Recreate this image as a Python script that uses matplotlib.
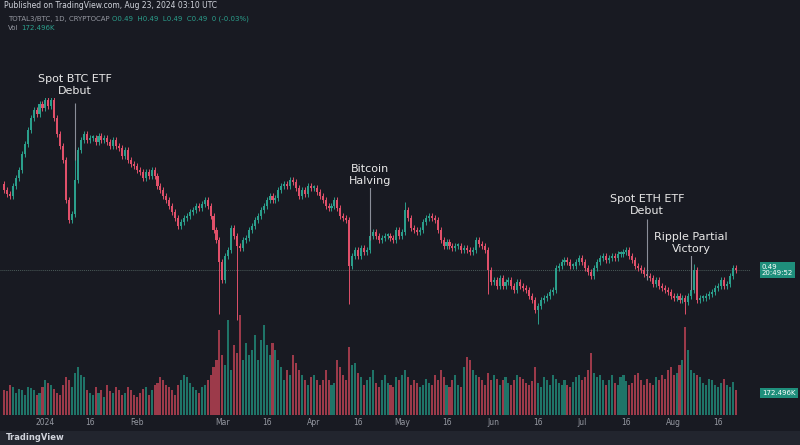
import matplotlib
matplotlib.use("Agg")
import matplotlib.pyplot as plt
import matplotlib.dates as mdates
import numpy as np
import pandas as pd

# ---------- data ----------
START_DATE = "2023-12-18"
FIRST_OPEN = 0.533

# daily closes, TOTAL3/BTC
close = np.array([
    530, 528, 527, 532, 536, 540, 548, 553, 560, 566,
    570, 568, 573, 571, 575, 572, 575, 566, 558, 552,
    545, 525, 515, 518, 535, 550, 555, 558, 555, 556,
    556, 554, 557, 555, 556, 554, 552, 555, 552, 551,
    547, 550, 545, 543, 542, 540, 539, 536, 539, 537,
    540, 537, 532, 530, 527, 525, 522, 519, 516, 512,
    514, 516, 517, 519, 520, 522, 521, 523, 525, 522,
    517, 510, 505, 494, 485, 497, 500, 511, 507, 502,
    501, 505, 506, 510, 512, 515, 517, 520, 522, 525,
    527, 525, 526, 530, 532, 533, 532, 535, 534, 531,
    527, 530, 528, 532, 531, 531, 529, 527, 525, 522,
    521, 522, 525, 521, 517, 516, 515, 492, 497, 500,
    497, 501, 499, 500, 507, 509, 507, 505, 506, 507,
    507, 506, 505, 510, 507, 509, 520, 516, 511, 510,
    509, 510, 514, 516, 517, 516, 515, 510, 505, 502,
    504, 502, 501, 502, 502, 500, 501, 500, 499, 500,
    505, 503, 502, 500, 490, 484, 485, 482, 486, 482,
    484, 485, 482, 480, 484, 482, 481, 480, 477, 475,
    470, 472, 475, 476, 477, 479, 480, 491, 492, 494,
    495, 494, 492, 492, 494, 496, 494, 491, 489, 487,
    491, 494, 496, 497, 495, 496, 497, 496, 498, 498,
    499, 500, 497, 495, 492, 491, 490, 488, 487, 486,
    483, 485, 482, 481, 480, 479, 477, 476, 477, 475,
    476, 474, 477, 480, 490, 475, 476, 476, 477, 478,
    479, 481, 482, 485, 482, 483, 487, 491, 490,
]) / 1000.0

# long lower / upper wicks (day index -> price)
long_lows = {73: 0.468, 79: 0.465, 117: 0.473, 181: 0.463, 231: 0.468, 164: 0.478}
long_highs = {16: 0.580, 24: 0.548, 136: 0.524, 234: 0.493}

volume = np.array([
    25, 24, 30, 28, 22, 26, 25, 20, 28, 27,
    25, 20, 22, 28, 35, 32, 30, 26, 22, 20,
    30, 38, 35, 28, 42, 48, 40, 38, 25, 22,
    20, 28, 22, 25, 18, 30, 24, 22, 28, 25,
    20, 22, 28, 25, 20, 18, 22, 26, 28, 20,
    25, 30, 32, 38, 35, 30, 28, 25, 20, 30,
    35, 40, 38, 32, 28, 25, 22, 28, 30, 35,
    40, 48, 55, 85, 60, 50, 95, 45, 70, 62,
    100, 55, 72, 60, 65, 80, 55, 75, 90, 70,
    60, 72, 65, 55, 48, 35, 45, 40, 60, 52,
    45, 40, 35, 30, 38, 40, 35, 30, 35, 45,
    35, 30, 32, 55, 48, 40, 35, 68, 50, 52,
    42, 38, 30, 35, 38, 45, 32, 28, 35, 40,
    32, 30, 28, 38, 35, 40, 45, 38, 30, 35,
    32, 28, 30, 36, 32, 30, 40, 35, 45, 38,
    30, 28, 35, 40, 30, 28, 48, 58, 55, 45,
    40, 38, 35, 30, 42, 35, 40, 36, 30, 35,
    38, 32, 30, 35, 40, 38, 36, 32, 30, 34,
    48, 32, 28, 38, 35, 30, 40, 36, 32, 30,
    35, 30, 28, 33, 38, 40, 35, 38, 45, 62,
    42, 38, 40, 35, 30, 35, 40, 32, 30, 38,
    40, 34, 30, 32, 40, 42, 35, 30, 36, 32,
    30, 38, 35, 40, 36, 45, 48, 40, 42, 50,
    55, 88, 65, 45, 42, 40, 38, 32, 30, 36,
    35, 30, 28, 32, 36, 30, 28, 33, 25,
])

tick_dates = ["2024-01-01", "2024-01-16", "2024-02-01", "2024-03-01", "2024-03-16",
              "2024-04-01", "2024-04-16", "2024-05-01", "2024-05-16", "2024-06-01",
              "2024-06-16", "2024-07-01", "2024-07-16", "2024-08-01", "2024-08-16"]
tick_labels = ["2024", "16", "Feb", "Mar", "16", "Apr", "16", "May", "16", "Jun",
               "16", "Jul", "16", "Aug", "16"]

events = ["Spot BTC ETF\nDebut", "Bitcoin\nHalving", "Spot ETH ETF\nDebut",
          "Ripple Partial\nVictory"]
event_dates = ["2024-01-11", "2024-04-20", "2024-07-23", "2024-08-07"]
event_text_y = [0.5825, 0.5375, 0.5225, 0.5035]
event_line_top = [0.5735, 0.5315, 0.5155, 0.4975]
event_line_bot = [0.545, 0.505, 0.485, 0.480]

# ---------- style ----------
BG = "#181a22"
GREEN = "#2b9f8c"
RED = "#e0506a"
VGREEN = "#1f7468"
VRED = "#9c3a4a"
TXT = "#d1d4dc"

dates = pd.date_range(START_DATE, periods=len(close))
x = mdates.date2num(dates)
opens = np.concatenate([[FIRST_OPEN], close[:-1]])

fig = plt.figure(figsize=(8, 4.45), dpi=100, facecolor=BG)
ax = fig.add_axes([0, 30 / 445, 750 / 800, 375 / 445], facecolor=BG)
axv = ax.twinx()

for i in range(len(close)):
    o, c = opens[i], close[i]
    up = c >= o
    col = GREEN if up else RED
    hi = long_highs.get(i, max(o, c) + 0.0015)
    lo = long_lows.get(i, min(o, c) - 0.0015)
    ax.vlines(x[i], lo, hi, color=col, linewidth=0.7, zorder=3)
    body = max(abs(c - o), 0.0008)
    ax.bar(x[i], body, bottom=min(o, c), width=0.7, color=col, zorder=4,
           linewidth=0)
    axv.bar(x[i], volume[i], width=0.7, color=VGREEN if up else VRED,
            linewidth=0)

ax.axhline(0.49, color="#4a5a58", linewidth=0.7, linestyle=(0, (1, 1)), zorder=1)

for label, d, ty, lt, lb in zip(events, event_dates, event_text_y,
                                event_line_top, event_line_bot):
    xd = mdates.date2num(pd.Timestamp(d))
    ax.text(xd, ty, label, color="#e8e8e8", fontsize=8, ha="center",
            va="center", linespacing=1.15, zorder=6,
            bbox=dict(boxstyle="square,pad=0.25", facecolor=BG, edgecolor="none"))
    ax.vlines(xd, lb, lt, color="#8a8e99", linewidth=0.8, zorder=5)

x0 = mdates.date2num(pd.Timestamp(START_DATE))
ax.set_xlim(x0 - 1.4, x0 + 252.9)
ax.set_ylim(0.4175, 0.605)
axv.set_ylim(0, 375)
ax.set_xticks(mdates.date2num(pd.to_datetime(tick_dates)))
ax.set_xticklabels(tick_labels, color="#9598a1", fontsize=5.5)
ax.tick_params(axis="x", length=0, pad=2)
ax.set_yticks([])
axv.set_yticks([])
for a in (ax, axv):
    for s in a.spines.values():
        s.set_visible(False)

# right-hand price labels
fig.text(762 / 800, 1 - 270 / 445, "0.49\n20:49:52", fontsize=5, color="white",
         ha="left", va="center", linespacing=1.1,
         bbox=dict(boxstyle="square,pad=0.3", facecolor="#1f8f7c", edgecolor="none"))
fig.text(762 / 800, 1 - 393 / 445, "172.496K", fontsize=5, color="white",
         ha="left", va="center",
         bbox=dict(boxstyle="square,pad=0.3", facecolor="#1f8f7c", edgecolor="none"))

# header
fig.text(4 / 800, 1 - 6 / 445, "Published on TradingView.com, Aug 23, 2024 03:10 UTC",
         fontsize=5.5, color=TXT, va="center")
fig.text(8 / 800, 1 - 19 / 445, "TOTAL3/BTC, 1D, CRYPTOCAP", fontsize=5,
         color="#9598a1", va="center")
fig.text(112 / 800, 1 - 19 / 445, "O0.49  H0.49  L0.49  C0.49  0 (-0.03%)",
         fontsize=5, color="#2b9f8c", va="center")
fig.text(8 / 800, 1 - 28 / 445, "Vol", fontsize=5, color="#9598a1", va="center")
fig.text(21 / 800, 1 - 28 / 445, "172.496K", fontsize=5, color="#2b9f8c",
         va="center")

# footer
fig.patches.append(plt.Rectangle((0, 0), 1, 14 / 445, transform=fig.transFigure,
                                 facecolor="#22252e", edgecolor="none", zorder=0))
fig.text(6 / 800, 7 / 445, "TradingView", fontsize=6, color=TXT, va="center",
         fontweight="bold")

fig.savefig("out.png", dpi=100, facecolor=BG)
